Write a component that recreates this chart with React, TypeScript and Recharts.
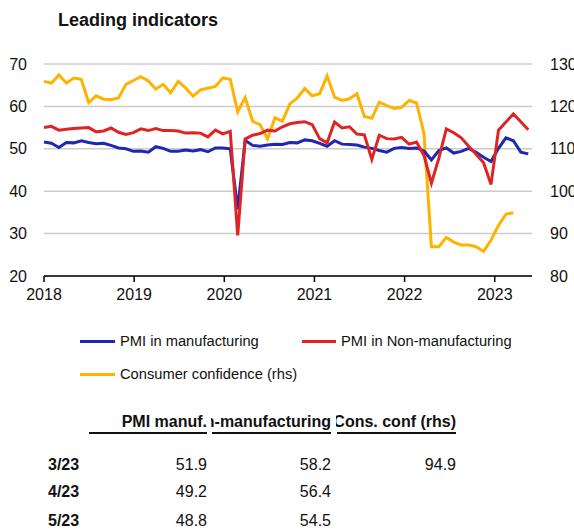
import React from 'react';
import { LineChart, Line, XAxis, YAxis, CartesianGrid } from 'recharts';

// Monthly observations, Dec 2017 .. May 2023
const monthLabels: string[] = [
  '12/17',
  '1/18', '2/18', '3/18', '4/18', '5/18', '6/18', '7/18', '8/18', '9/18', '10/18', '11/18', '12/18',
  '1/19', '2/19', '3/19', '4/19', '5/19', '6/19', '7/19', '8/19', '9/19', '10/19', '11/19', '12/19',
  '1/20', '2/20', '3/20', '4/20', '5/20', '6/20', '7/20', '8/20', '9/20', '10/20', '11/20', '12/20',
  '1/21', '2/21', '3/21', '4/21', '5/21', '6/21', '7/21', '8/21', '9/21', '10/21', '11/21', '12/21',
  '1/22', '2/22', '3/22', '4/22', '5/22', '6/22', '7/22', '8/22', '9/22', '10/22', '11/22', '12/22',
  '1/23', '2/23', '3/23', '4/23', '5/23',
];

const pmiManufacturing: number[] = [
  51.6,
  51.3, 50.3, 51.5, 51.4, 51.9, 51.5, 51.2, 51.3, 50.8, 50.2, 50.0, 49.4,
  49.5, 49.2, 50.5, 50.1, 49.4, 49.4, 49.7, 49.5, 49.8, 49.3, 50.2, 50.2,
  50.0, 35.7, 52.0, 50.8, 50.6, 50.9, 51.1, 51.0, 51.5, 51.4, 52.1, 51.9,
  51.3, 50.6, 51.9, 51.1, 51.0, 50.9, 50.4, 50.1, 49.6, 49.2, 50.1, 50.3,
  50.1, 50.2, 49.5, 47.4, 49.6, 50.2, 49.0, 49.4, 50.1, 49.2, 48.0, 47.0,
  50.1, 52.6, 51.9, 49.2, 48.8,
];

const pmiNonManufacturing: number[] = [
  55.0,
  55.3, 54.4, 54.6, 54.8, 54.9, 55.0, 54.0, 54.2, 54.9, 53.9, 53.4, 53.8,
  54.7, 54.3, 54.8, 54.3, 54.3, 54.2, 53.7, 53.8, 53.7, 52.8, 54.4, 53.5,
  54.1, 29.6, 52.3, 53.2, 53.6, 54.4, 54.2, 55.2, 55.9, 56.2, 56.4, 55.7,
  52.4, 51.4, 56.3, 54.9, 55.2, 53.5, 53.3, 47.5, 53.2, 52.4, 52.3, 52.7,
  51.1, 51.6, 48.4, 41.9, 47.8, 54.7, 53.8, 52.6, 50.6, 48.7, 46.7, 41.6,
  54.4, 56.3, 58.2, 56.4, 54.5,
];

const consumerConfidence: (number | null)[] = [
  125.9,
  125.5, 127.4, 125.5, 126.7, 126.4, 120.9, 122.5, 121.7, 121.6, 122.0, 125.2, 126.1,
  127.0, 126.0, 124.1, 125.2, 123.2, 125.9, 124.4, 122.4, 123.9, 124.3, 124.7, 126.7,
  126.4, 118.7, 122.1, 116.5, 115.7, 112.3, 117.3, 116.5, 120.6, 122.0, 124.2, 122.5,
  123.0, 127.2, 122.2, 121.4, 121.8, 123.0, 117.6, 117.2, 121.0, 120.2, 119.5, 119.8,
  121.4, 120.8, 113.7, 86.9, 86.9, 89.1, 88.0, 87.3, 87.3, 86.9, 85.8, 88.5,
  91.9, 94.6, 94.9, null, null,
];

const yearTicks: number[] = [0, 12.1, 24.2, 36.3, 48.4, 60.5];
const yearLabels: string[] = ['2018', '2019', '2020', '2021', '2022', '2023'];
const leftTicks: number[] = [20, 30, 40, 50, 60, 70];
const rightTicks: number[] = [80, 90, 100, 110, 120, 130];

const tableRows: string[] = ['3/23', '4/23', '5/23'];
const tableManuf: string[] = ['51.9', '49.2', '48.8'];
const tableNonManuf: string[] = ['58.2', '56.4', '54.5'];
const tableCons: string[] = ['94.9', '', ''];
const tableHeaders: string[] = ['PMI manuf.', 'PMI Non-manufacturing', 'Cons. conf (rhs)'];

const data = monthLabels.map((m, i) => ({
  t: i,
  month: m,
  manuf: pmiManufacturing[i],
  nonManuf: pmiNonManufacturing[i],
  cons: consumerConfidence[i],
}));

const BLUE = '#2027b0';
const RED = '#e02424';
const YELLOW = '#ffb300';
const FONT = '"Liberation Sans", Arial, Helvetica, sans-serif';

const tickStyle = { fill: '#111', fontSize: 16, fontFamily: FONT };

const cellRights = [207, 331, 456];
const cellLefts = [88, 211, 336];

export default function App() {
  return (
    <div style={{ position: 'absolute', left: 0, top: 0, width: 574, height: 531, background: '#fff', fontFamily: FONT, color: '#111', overflow: 'hidden' }}>
      <div style={{ position: 'absolute', left: 58, top: 10, fontSize: 18, lineHeight: '20px', fontWeight: 'bold', whiteSpace: 'nowrap' }}>
        Leading indicators
      </div>
      <div style={{ position: 'absolute', left: 0, top: 0 }}>
        <LineChart width={574} height={310} data={data} margin={{ top: 64, right: 0, bottom: 4, left: 0 }}>
          <CartesianGrid yAxisId="left" horizontal={true} vertical={false} stroke="#cccccc" strokeWidth={1.5} />
          <XAxis
            dataKey="t"
            type="number"
            domain={[0, 65.5]}
            ticks={yearTicks}
            interval={0}
            tickFormatter={(v: number) => yearLabels[yearTicks.indexOf(v)] ?? ''}
            height={30}
            axisLine={{ stroke: '#000', strokeWidth: 1.5 }}
            tickLine={{ stroke: '#000', strokeWidth: 1.5 }}
            tickSize={6}
            tickMargin={7}
            tick={tickStyle}
          />
          <YAxis
            yAxisId="left"
            orientation="left"
            domain={[20, 70]}
            ticks={leftTicks}
            interval={0}
            width={44}
            axisLine={false}
            tickLine={false}
            tickMargin={11}
            tick={tickStyle}
          />
          <YAxis
            yAxisId="right"
            orientation="right"
            domain={[80, 130]}
            ticks={rightTicks}
            interval={0}
            width={42}
            axisLine={false}
            tickLine={false}
            tickMargin={12}
            tick={{ ...tickStyle, textAnchor: 'start' }}
          />
          <Line yAxisId="right" type="linear" dataKey="cons" stroke={YELLOW} strokeWidth={3} dot={false} isAnimationActive={false} connectNulls={false} />
          <Line yAxisId="left" type="linear" dataKey="manuf" stroke={BLUE} strokeWidth={3} dot={false} isAnimationActive={false} />
          <Line yAxisId="left" type="linear" dataKey="nonManuf" stroke={RED} strokeWidth={3} dot={false} isAnimationActive={false} />
        </LineChart>
      </div>

      {/* Legend */}
      <div style={{ position: 'absolute', left: 80, top: 340, width: 35, height: 3, background: BLUE }} />
      <div style={{ position: 'absolute', left: 120, top: 333, fontSize: 14.7, lineHeight: '16px', whiteSpace: 'nowrap' }}>PMI in manufacturing</div>
      <div style={{ position: 'absolute', left: 302, top: 340, width: 34, height: 3, background: RED }} />
      <div style={{ position: 'absolute', left: 341, top: 333, fontSize: 14.7, lineHeight: '16px', whiteSpace: 'nowrap' }}>PMI in Non-manufacturing</div>
      <div style={{ position: 'absolute', left: 80, top: 373, width: 35, height: 3, background: YELLOW }} />
      <div style={{ position: 'absolute', left: 120, top: 366, fontSize: 14.7, lineHeight: '16px', whiteSpace: 'nowrap' }}>Consumer confidence (rhs)</div>

      {/* Table header */}
      {tableHeaders.map((h, j) => (
        <div key={h} style={{ position: 'absolute', left: cellLefts[j], top: 413, width: cellRights[j] - cellLefts[j], height: 19, overflow: 'hidden' }}>
          <span style={{ position: 'absolute', right: 0, top: 0, fontSize: 16, lineHeight: '18px', fontWeight: 'bold', whiteSpace: 'nowrap' }}>{h}</span>
        </div>
      ))}
      {tableHeaders.map((h, j) => (
        <div key={h + 'u'} style={{ position: 'absolute', left: cellLefts[j] + 1, top: 432, width: cellRights[j] - cellLefts[j] - 1, height: 2, background: '#111' }} />
      ))}

      {/* Table rows */}
      {tableRows.map((r, i) => {
        const top = [456, 483, 512][i];
        const vals = [tableManuf[i], tableNonManuf[i], tableCons[i]];
        return (
          <React.Fragment key={r}>
            <div style={{ position: 'absolute', left: 48, top, fontSize: 16, lineHeight: '18px', fontWeight: 'bold' }}>{r}</div>
            {vals.map((v, j) => (
              <div key={j} style={{ position: 'absolute', left: cellRights[j] - 80, width: 80, top, fontSize: 16, lineHeight: '18px', textAlign: 'right' }}>{v}</div>
            ))}
          </React.Fragment>
        );
      })}
    </div>
  );
}
